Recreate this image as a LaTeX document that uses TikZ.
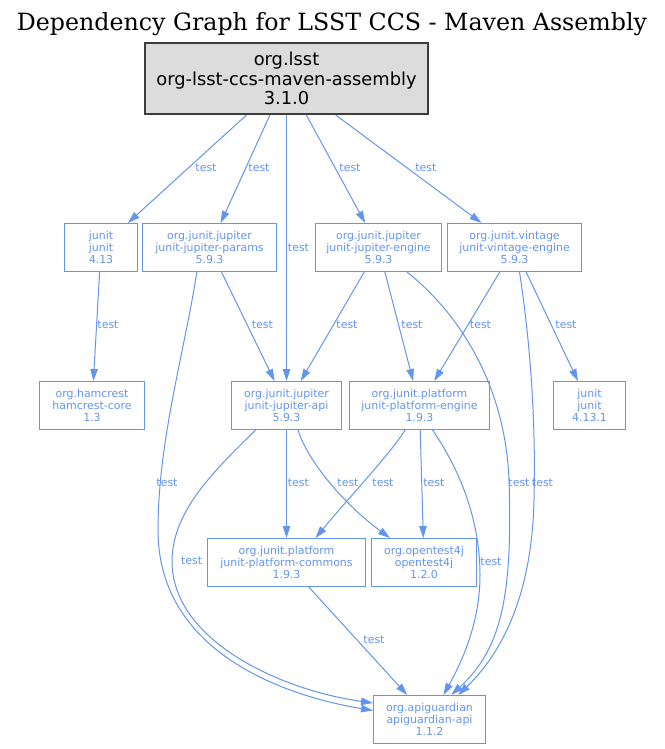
\documentclass[tikz,border=0pt]{standalone}
\usepackage{fontspec}
\setmainfont{DejaVu Sans}
\newfontfamily\titlefont{DejaVu Serif}
\usetikzlibrary{arrows.meta}
\definecolor{cblue}{HTML}{6495ED}
\definecolor{rootgray}{HTML}{DCDCDC}
\definecolor{rootline}{HTML}{3C3C3C}
\tikzset{
  dep/.style={draw=cblue, text=cblue, line width=1bp, font=\fontsize{11}{12}\selectfont,
    align=center, inner sep=0pt, minimum height=48bp},
  rootbox/.style={draw=rootline, fill=rootgray, line width=2bp, font=\fontsize{17.9}{19.5}\selectfont,
    align=center, inner sep=0pt, minimum width=283bp, minimum height=71bp},
  edge/.style={draw=cblue, line width=1bp, -{Triangle[length=12bp,width=7.5bp]}},
  lbl/.style={text=cblue, font=\fontsize{11}{12}\selectfont, inner sep=0pt}
}
\begin{document}
\begin{tikzpicture}[x=1bp,y=-1bp]
\useasboundingbox (0,0) rectangle (665,749);
\node[font=\titlefont\fontsize{23.8}{26}\selectfont, anchor=base, inner sep=0pt] (title) at (332,30.5) {Dependency Graph for LSST CCS - Maven Assembly};

\node[rootbox] (root) at (286.5,78.5) {org.lsst\\org-lsst-ccs-maven-assembly\\3.1.0};
\node[dep, minimum width=73bp] (junit) at (101,247.5) {junit\\junit\\4.13};
\node[dep, minimum width=134bp] (params) at (209.5,247.5) {org.junit.jupiter\\junit-jupiter-params\\5.9.3};
\node[dep, minimum width=126bp] (jengine) at (378.5,247.5) {org.junit.jupiter\\junit-jupiter-engine\\5.9.3};
\node[dep, minimum width=134bp] (vengine) at (514.5,247.5) {org.junit.vintage\\junit-vintage-engine\\5.9.3};
\node[dep, minimum width=105bp] (hamcrest) at (92,405.5) {org.hamcrest\\hamcrest-core\\1.3};
\node[dep, minimum width=110bp] (api) at (286.5,405.5) {org.junit.jupiter\\junit-jupiter-api\\5.9.3};
\node[dep, minimum width=140bp] (pengine) at (419.5,405.5) {org.junit.platform\\junit-platform-engine\\1.9.3};
\node[dep, minimum width=72bp] (junitb) at (589.5,405.5) {junit\\junit\\4.13.1};
\node[dep, minimum width=158bp] (commons) at (286.5,562.5) {org.junit.platform\\junit-platform-commons\\1.9.3};
\node[dep, minimum width=105bp] (opentest) at (424,562.5) {org.opentest4j\\opentest4j\\1.2.0};
\node[dep, minimum width=112bp] (apig) at (429.5,719.5) {org.apiguardian\\apiguardian-api\\1.1.2};

% straight edges
\draw[edge] (root) -- (junit);
\draw[edge] (root) -- (params);
\draw[edge] (root) -- (api);
\draw[edge] (root) -- (jengine);
\draw[edge] (root) -- (vengine);
\draw[edge] (junit) -- (hamcrest);
\draw[edge] (params) -- (api);
\draw[edge] (jengine) -- (api);
\draw[edge] (jengine) -- (pengine);
\draw[edge] (vengine) -- (pengine);
\draw[edge] (vengine) -- (junitb);
\draw[edge] (api) -- (commons);
\draw[edge] (pengine) -- (opentest);
\draw[edge] (commons) -- (apig);
% curved edges
\draw[edge] ([xshift=11.5bp]api.south) .. controls (308,462) and (345,505) .. ([xshift=-34bp]opentest.north);
\draw[edge] ([xshift=-14.5bp]pengine.south) .. controls (392,452) and (345,502) .. ([xshift=29bp]commons.north);
\draw[edge] ([xshift=-12.7bp]params.south) .. controls (185,350) and (158,440) .. (158,530) .. controls (158,650) and (280,695) .. ([yshift=9bp]apig.west);
\draw[edge] ([xshift=-30.8bp]api.south) .. controls (215,470) and (173,510) .. (172,560) .. controls (171,640) and (280,690) .. ([yshift=16.5bp]apig.west);
\draw[edge] ([xshift=28.5bp]jengine.south) .. controls (455,310) and (505,380) .. (509,480) .. controls (513,600) and (500,650) .. ([xshift=21.7bp]apig.north);
\draw[edge] ([xshift=5bp]vengine.south) .. controls (530,340) and (536,420) .. (534,500) .. controls (532,590) and (505,650) .. ([xshift=28.7bp]apig.north);
\draw[edge] ([xshift=13bp]pengine.south) .. controls (460,470) and (480,520) .. (480,575) .. controls (480,625) and (460,665) .. ([xshift=14bp]apig.north);

% edge labels
\node[lbl] (l1) at (206,168) {test};
\node[lbl] (l2) at (259,168) {test};
\node[lbl] (l3) at (298.5,247.3) {test};
\node[lbl] (l4) at (350,168) {test};
\node[lbl] (l5) at (425.8,168) {test};
\node[lbl] (l6) at (108,325) {test};
\node[lbl] (l7) at (262.3,325) {test};
\node[lbl] (l8) at (347,325) {test};
\node[lbl] (l9) at (412,325) {test};
\node[lbl] (l10) at (480.5,325) {test};
\node[lbl] (l11) at (566,325) {test};
\node[lbl] (l12) at (167,482.7) {test};
\node[lbl] (l13) at (298.3,482.7) {test};
\node[lbl] (l14) at (348,482.7) {test};
\node[lbl] (l15) at (383,482.7) {test};
\node[lbl] (l16) at (433.8,482.7) {test};
\node[lbl] (l17) at (519,482.7) {test};
\node[lbl] (l18) at (542.5,482.7) {test};
\node[lbl] (l19) at (191.7,561) {test};
\node[lbl] (l20) at (491,561.7) {test};
\node[lbl] (l21) at (374,640) {test};
\end{tikzpicture}
\end{document}
